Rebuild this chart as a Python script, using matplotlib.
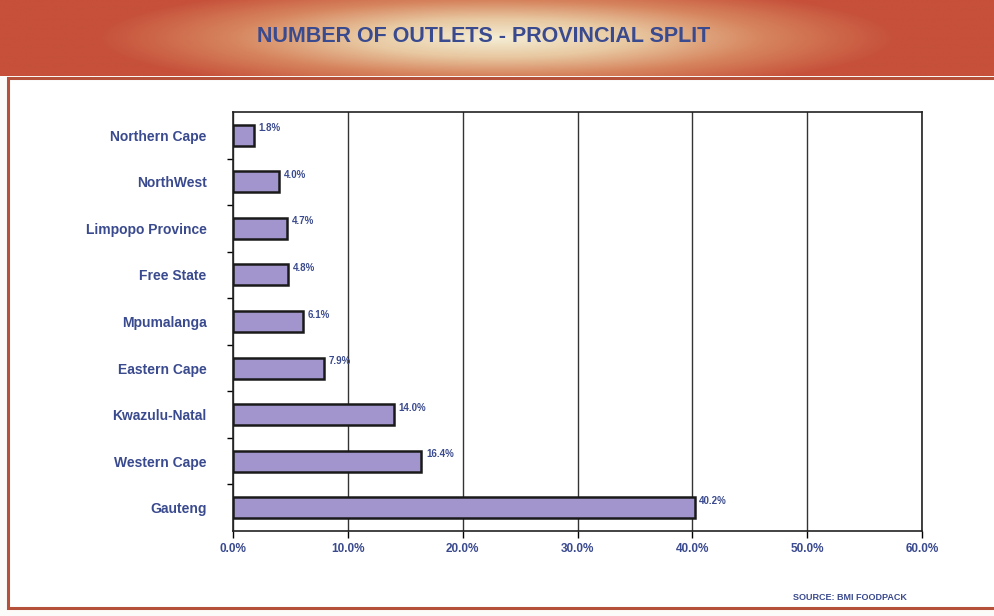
import numpy as np
import matplotlib
matplotlib.use("Agg")
import matplotlib.pyplot as plt
from matplotlib.patches import Rectangle
from matplotlib.colors import LinearSegmentedColormap

# Provincial share of outlets (%)
provinces = ["Northern Cape", "NorthWest", "Limpopo Province", "Free State",
             "Mpumalanga", "Eastern Cape", "Kwazulu-Natal", "Western Cape", "Gauteng"]
shares = [1.8, 4.0, 4.7, 4.8, 6.1, 7.9, 14.0, 16.4, 40.2]
xticks = [0, 10, 20, 30, 40, 50, 60]
xtick_labels = ["0.0%", "10.0%", "20.0%", "30.0%", "40.0%", "50.0%", "60.0%"]

title = "NUMBER OF OUTLETS - PROVINCIAL SPLIT"
source = "SOURCE: BMI FOODPACK"

FONT = ["Liberation Sans", "DejaVu Sans"]
BLUE = "#3a4a8e"
BAR = "#a294cd"

W, H = 994, 616
fig = plt.figure(figsize=(W / 100, H / 100), dpi=100)
fig.patch.set_facecolor("#fbfbfa")

# White panel with reddish border below the banner
fig.patches.append(Rectangle((8 / W, 8 / H), 990 / W, (608 - 78) / H,
                             transform=fig.transFigure, facecolor="white",
                             edgecolor="#b5513a", linewidth=2.2, zorder=0))

# Header banner: red-orange edges fading to a cream centre
hdr = fig.add_axes([0, 1 - 76 / H, 1, 76 / H])
hdr.set_zorder(2)
hdr.set_axis_off()
xx = np.linspace(-1, 1, 600)
yy = np.linspace(-1, 1, 80)
X, Y = np.meshgrid(xx, yy)
r = np.sqrt((X / 0.62) ** 2 + (Y / 1.15) ** 2)
cmap = LinearSegmentedColormap.from_list(
    "banner", ["#f4edd4", "#e8c9a2", "#d6845d", "#c6503a"])
hdr.imshow(np.clip(r, 0, 1.3), cmap=cmap, aspect="auto", extent=[0, 1, 0, 1],
           vmin=0, vmax=1.3)
hdr.set_xlim(0, 1)
hdr.set_ylim(0, 1)
hdr.text(0.487, 0.52, title, ha="center", va="center", fontsize=15.5,
         fontweight="bold", color=BLUE, family=FONT)

ax = fig.add_axes([233 / W, 1 - 531 / H, (922 - 233) / W, (531 - 112) / H])
ax.set_zorder(2)
ax.set_facecolor("white")
ypos = np.arange(len(provinces))[::-1]
ax.barh(ypos, shares, height=0.45, color=BAR, edgecolor="#1a1a1a",
        linewidth=1.8, zorder=3)
for y, v in zip(ypos, shares):
    ax.text(v + 0.4, y + 0.15, f"{v:.1f}%", ha="left", va="center",
            fontsize=7, fontweight="bold", color=BLUE, family=FONT)

ax.set_xlim(0, 60)
ax.set_ylim(-0.5, len(provinces) - 0.5)
ax.set_xticks(xticks)
ax.set_xticklabels(xtick_labels, fontsize=8.5, fontweight="bold", color=BLUE,
                   family=FONT)
ax.xaxis.grid(True, color="#333333", linewidth=1.0, zorder=0)
ax.tick_params(axis="x", length=5, width=1, pad=4)

ax.set_yticks(ypos)
ax.set_yticklabels(provinces, fontsize=10, fontweight="bold", color=BLUE,
                   family=FONT)
ax.tick_params(axis="y", length=0, pad=19)
ax.set_yticks(np.arange(-0.5, len(provinces) - 0.5, 1.0)[1:], minor=True)
ax.tick_params(axis="y", which="minor", length=4, width=1)
for s in ax.spines.values():
    s.set_color("#222222")
    s.set_linewidth(1.2)

fig.text(850 / W, 1 - 598 / H, source, ha="center", va="center", fontsize=6.5,
         fontweight="bold", color=BLUE, family=FONT)

fig.savefig("out.png", dpi=100, facecolor=fig.get_facecolor())
